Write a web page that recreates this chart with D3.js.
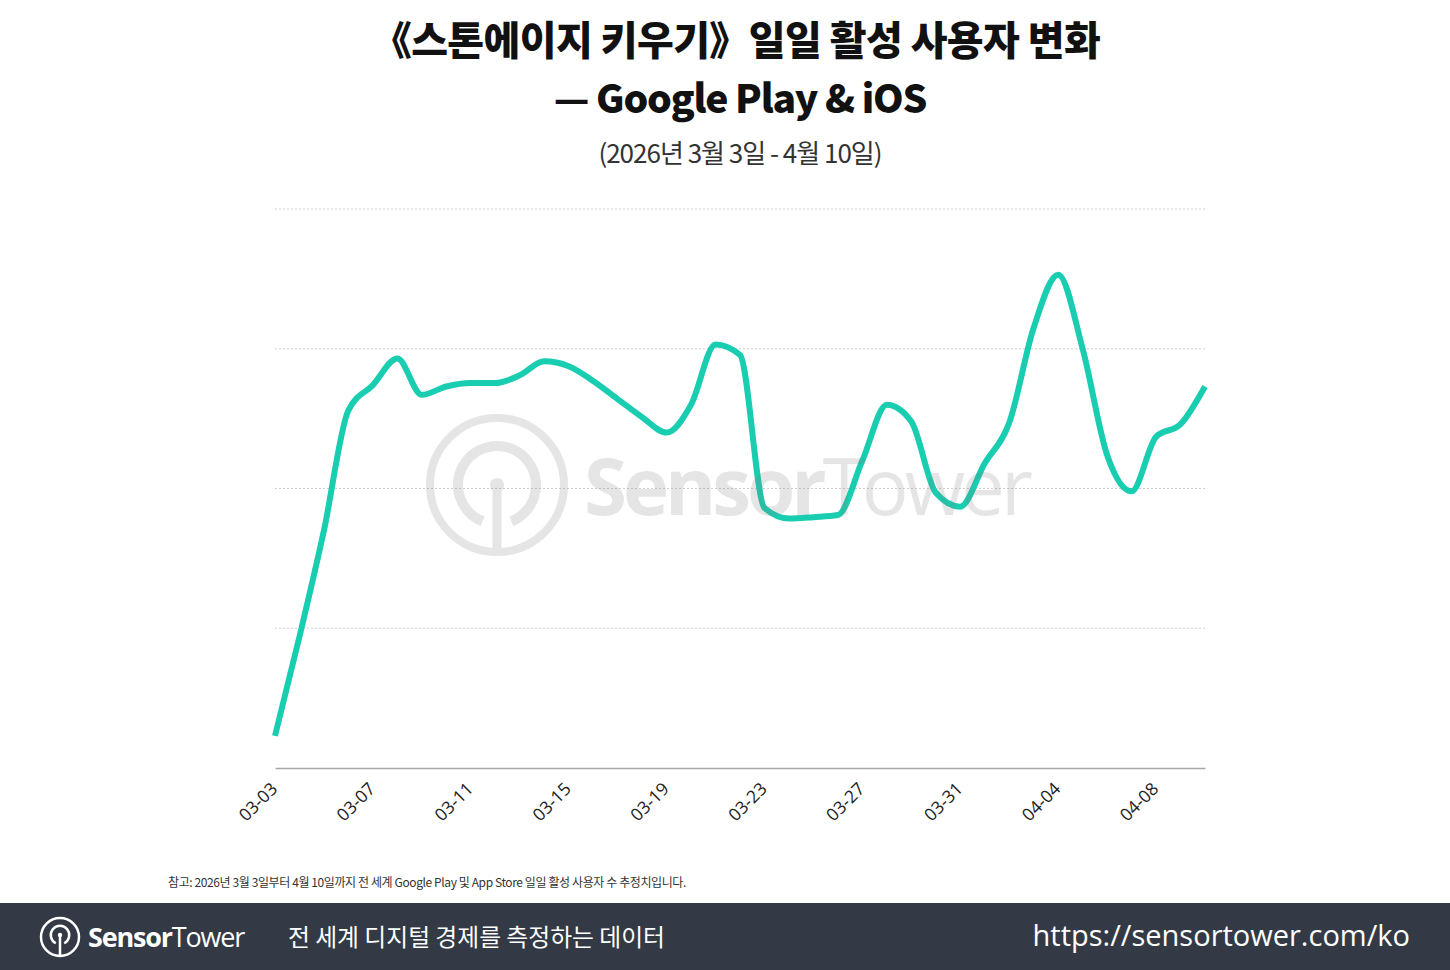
<!DOCTYPE html>
<html>
<head>
<meta charset="utf-8">
<script src="https://cdn.jsdelivr.net/npm/d3@7"></script>
<style>
  body { margin: 0; background: #fff; }
  svg { display: block; }
</style>
</head>
<body>
<svg width="1450" height="970"></svg>
<script>
const titleLine1 = '《스톤에이지 키우기》일일 활성 사용자 변화';
const titleLine2 = '— Google Play & iOS';
const subtitleText = '(2026년 3월 3일 - 4월 10일)';
const noteText = '참고: 2026년 3월 3일부터 4월 10일까지 전 세계 Google Play 및 App Store 일일 활성 사용자 수 추정치입니다.';

// daily dates, 03-03 .. 04-10
const dates = [
  '03-03','03-04','03-05','03-06','03-07','03-08','03-09','03-10','03-11','03-12',
  '03-13','03-14','03-15','03-16','03-17','03-18','03-19','03-20','03-21','03-22',
  '03-23','03-24','03-25','03-26','03-27','03-28','03-29','03-30','03-31','04-01',
  '04-02','04-03','04-04','04-05','04-06','04-07','04-08','04-09','04-10'
];
// relative DAU (no y labels in the source, 4 grid bands)
const dau = [
  0.23, 0.94, 1.70, 2.56, 2.74, 2.93, 2.67, 2.73, 2.755, 2.755,
  2.81, 2.91, 2.875, 2.77, 2.64, 2.51, 2.40, 2.60, 3.03, 2.955,
  1.86, 1.785, 1.795, 1.81, 2.20, 2.60, 2.48, 1.97, 1.87, 2.18,
  2.47, 3.15, 3.53, 3.00, 2.24, 1.98, 2.37, 2.46, 2.73
];
const tickDates = ['03-03','03-07','03-11','03-15','03-19','03-23','03-27','03-31','04-04','04-08'];
const gridValues = [0, 1, 2, 3, 4];

const data = dates.map((d, i) => ({ date: d, value: dau[i] }));

const svg = d3.select('svg');
const width = +svg.attr('width');

const margin = { top: 209, left: 275, right: 245, bottom: 202 };
const innerWidth = width - margin.left - margin.right;
const innerHeight = 970 - margin.top - margin.bottom;

const cjk = '"Noto Sans CJK KR", "Noto Sans", sans-serif';

// titles
svg.append('text')
  .attr('x', 736).attr('y', 55)
  .attr('text-anchor', 'middle')
  .attr('font-family', cjk).attr('font-weight', 900)
  .attr('font-size', 40).attr('fill', '#111')
  .attr('letter-spacing', -0.6)
  .text(titleLine1);

svg.append('text')
  .attr('x', 740).attr('y', 113)
  .attr('text-anchor', 'middle')
  .attr('font-family', cjk).attr('font-weight', 900)
  .attr('font-size', 39).attr('fill', '#111')
  .attr('letter-spacing', -1.2)
  .text(titleLine2);

svg.append('text')
  .attr('x', 740).attr('y', 163)
  .attr('text-anchor', 'middle')
  .attr('font-family', cjk)
  .attr('font-size', 26).attr('fill', '#333')
  .attr('letter-spacing', -1)
  .text(subtitleText);

const xScale = d3.scalePoint()
  .domain(dates)
  .range([0, innerWidth]);

const yScale = d3.scaleLinear()
  .domain([0, 4])
  .range([innerHeight, 0]);

const g = svg.append('g')
  .attr('transform', `translate(${margin.left},${margin.top})`);

// grid
g.selectAll('.grid').data(gridValues.slice(1))
  .enter().append('line')
    .attr('x1', 0).attr('x2', innerWidth)
    .attr('y1', d => yScale(d)).attr('y2', d => yScale(d))
    .attr('stroke', '#cfcfcf')
    .attr('stroke-width', 1)
    .attr('stroke-dasharray', '2,2');

// x axis
const xAxis = d3.axisBottom(xScale)
  .tickValues(tickDates)
  .tickSize(0)
  .tickPadding(0);

const xAxisG = g.append('g')
  .attr('transform', `translate(0,${innerHeight})`)
  .call(xAxis);

xAxisG.select('.domain')
  .attr('stroke', '#a8a8a8')
  .attr('stroke-width', 1.5);

xAxisG.selectAll('text')
  .attr('font-family', '"Open Sans", sans-serif')
  .attr('font-size', 17.5)
  .attr('fill', '#222')
  .attr('text-anchor', 'end')
  .attr('dy', 0)
  .attr('transform', 'translate(3,22) rotate(-45)');

// line
const line = d3.line()
  .x(d => xScale(d.date))
  .y(d => yScale(d.value))
  .curve(d3.curveMonotoneX);

g.append('path')
  .datum(data)
  .attr('fill', 'none')
  .attr('stroke', '#19cdb0')
  .attr('stroke-width', 6)
  .attr('stroke-linejoin', 'round')
  .attr('stroke-linecap', 'butt')
  .attr('d', line);

// watermark, drawn over the line and faint
const wmColor = '#808080';
const wm = svg.append('g').attr('opacity', 0.2);
wm.append('circle').attr('cx', 497).attr('cy', 485).attr('r', 67)
  .attr('fill', 'none').attr('stroke', wmColor).attr('stroke-width', 8);
wm.append('path')
  .attr('d', d3.arc()({ innerRadius: 34, outerRadius: 44, startAngle: Math.PI * 1.12, endAngle: Math.PI * 2.88 }))
  .attr('transform', 'translate(497,485)')
  .attr('fill', wmColor);
wm.append('line').attr('x1', 497).attr('x2', 497).attr('y1', 485).attr('y2', 550)
  .attr('stroke', wmColor).attr('stroke-width', 9);
wm.append('circle').attr('cx', 497).attr('cy', 485).attr('r', 7).attr('fill', wmColor);
const wmText = wm.append('text')
  .attr('x', 584).attr('y', 515)
  .attr('font-family', '"Open Sans", sans-serif')
  .attr('font-size', 78).attr('fill', wmColor)
  .attr('letter-spacing', -4);
wmText.append('tspan').attr('font-weight', 700).text('Sensor');
wmText.append('tspan').attr('font-weight', 400).text('Tower');

// note
svg.append('text')
  .attr('x', 168).attr('y', 887)
  .attr('font-family', cjk)
  .attr('font-size', 12).attr('fill', '#333')
  .attr('letter-spacing', -0.4)
  .text(noteText);

// footer band
const footer = svg.append('g');
footer.append('rect')
  .attr('x', 0).attr('y', 903)
  .attr('width', width).attr('height', 67)
  .attr('fill', '#333a45');

const logo = footer.append('g').attr('fill', 'none').attr('stroke', '#fff');
logo.append('circle').attr('cx', 60).attr('cy', 937).attr('r', 19).attr('stroke-width', 2.5);
logo.append('path')
  .attr('d', d3.arc()({ innerRadius: 8, outerRadius: 10.5, startAngle: Math.PI * 1.15, endAngle: Math.PI * 2.85 }))
  .attr('transform', 'translate(60,935)')
  .attr('fill', '#fff').attr('stroke', 'none');
logo.append('line').attr('x1', 60).attr('x2', 60).attr('y1', 935).attr('y2', 955).attr('stroke-width', 2.5);
logo.append('circle').attr('cx', 60).attr('cy', 935).attr('r', 2.2).attr('fill', '#fff').attr('stroke', 'none');

const brand = footer.append('text')
  .attr('x', 88).attr('y', 947)
  .attr('font-family', '"Open Sans", sans-serif')
  .attr('font-size', 27).attr('fill', '#fff')
  .attr('letter-spacing', -1.2);
brand.append('tspan').attr('font-weight', 700).text('Sensor');
brand.append('tspan').attr('font-weight', 400).text('Tower');

footer.append('text')
  .attr('x', 288).attr('y', 946)
  .attr('font-family', cjk)
  .attr('font-size', 23.8).attr('fill', '#fff')
  .text('전 세계 디지털 경제를 측정하는 데이터');

footer.append('text')
  .attr('x', 1410).attr('y', 946)
  .attr('text-anchor', 'end')
  .attr('font-family', '"Open Sans", sans-serif')
  .attr('font-size', 29).attr('fill', '#fff')
  .text('https://sensortower.com/ko');
</script>
</body>
</html>
